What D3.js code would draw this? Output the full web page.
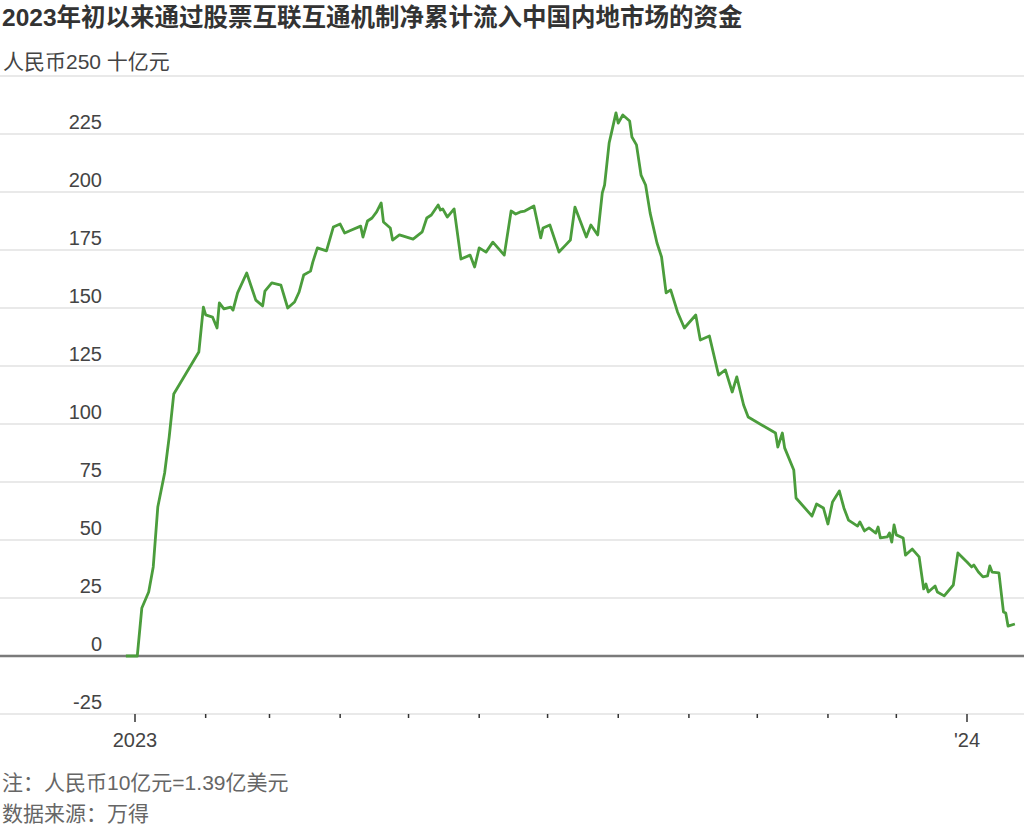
<!DOCTYPE html>
<html>
<head>
<meta charset="utf-8">
<script src="https://cdn.jsdelivr.net/npm/d3@7"></script>
<style>
	body { margin: 0; background: #fff; }
	svg text { font-family: "Liberation Sans", Arial, "Noto Sans CJK SC", sans-serif; }
</style>
</head>
<body>
<div id="root"></div>
<script>
const C = {
	width: 1024,
	height: 826,
	x0: 135,
	x1: 967,
	yTop: 76,
	yBottom: 714,
	lineColor: '#4b9d3c',
}

const title = '2023年初以来通过股票互联互通机制净累计流入中国内地市场的资金'
const unitLabel = '人民币250 十亿元'
const notes = ['注：人民币10亿元=1.39亿美元', '数据来源：万得']

const yTicks = [-25, 0, 25, 50, 75, 100, 125, 150, 175, 200, 225]

// cumulative net northbound inflow, RMB bn
const dates = [
	'2022-12-28', '2023-01-02', '2023-01-04', '2023-01-07', '2023-01-09', '2023-01-11', '2023-01-14', '2023-01-16',
	'2023-01-18', '2023-01-29', '2023-01-31', '2023-02-01', '2023-02-04', '2023-02-06', '2023-02-07', '2023-02-09',
	'2023-02-12', '2023-02-13', '2023-02-15', '2023-02-19', '2023-02-23', '2023-02-26', '2023-02-27', '2023-03-02',
	'2023-03-06', '2023-03-09', '2023-03-12', '2023-03-14', '2023-03-16', '2023-03-19', '2023-03-20', '2023-03-22',
	'2023-03-26', '2023-03-29', '2023-04-01', '2023-04-03', '2023-04-06', '2023-04-10', '2023-04-11', '2023-04-13',
	'2023-04-15', '2023-04-17', '2023-04-19', '2023-04-20', '2023-04-23', '2023-04-24', '2023-04-27', '2023-05-03',
	'2023-05-07', '2023-05-09', '2023-05-11', '2023-05-14', '2023-05-15', '2023-05-16', '2023-05-18', '2023-05-21',
	'2023-05-24', '2023-05-28', '2023-05-30', '2023-06-01', '2023-06-04', '2023-06-07', '2023-06-12', '2023-06-15',
	'2023-06-17', '2023-06-19', '2023-06-21', '2023-06-25', '2023-06-28', '2023-06-29', '2023-07-02', '2023-07-06',
	'2023-07-09', '2023-07-11', '2023-07-13', '2023-07-18', '2023-07-20', '2023-07-23', '2023-07-25', '2023-07-26',
	'2023-07-28', '2023-07-29', '2023-07-31', '2023-08-01', '2023-08-03', '2023-08-06', '2023-08-07', '2023-08-09',
	'2023-08-11', '2023-08-13', '2023-08-15', '2023-08-16', '2023-08-18', '2023-08-20', '2023-08-22', '2023-08-24',
	'2023-08-27', '2023-08-30', '2023-09-04', '2023-09-06', '2023-09-10', '2023-09-14', '2023-09-17', '2023-09-20',
	'2023-09-22', '2023-09-25', '2023-09-27', '2023-10-09', '2023-10-10', '2023-10-12', '2023-10-13', '2023-10-17',
	'2023-10-18', '2023-10-25', '2023-10-27', '2023-10-30', '2023-11-01', '2023-11-03', '2023-11-06', '2023-11-08',
	'2023-11-10', '2023-11-14', '2023-11-15', '2023-11-17', '2023-11-19', '2023-11-22', '2023-11-23', '2023-11-24',
	'2023-11-27', '2023-11-28', '2023-11-29', '2023-11-30', '2023-12-01', '2023-12-04', '2023-12-05', '2023-12-08',
	'2023-12-11', '2023-12-13', '2023-12-14', '2023-12-15', '2023-12-18', '2023-12-19', '2023-12-22', '2023-12-26',
	'2023-12-28', '2024-01-01', '2024-01-03', '2024-01-04', '2024-01-06', '2024-01-08', '2024-01-10', '2024-01-11',
	'2024-01-12', '2024-01-15', '2024-01-17', '2024-01-18', '2024-01-19', '2024-01-22',
]

const values = [
	0, 0, 20.7, 27.6, 38.4, 64.2, 78.9, 94.4,
	112.9, 131.0, 150.4, 147.0, 146.1, 141.4, 152.2, 149.6,
	150.4, 149.1, 156.5, 165.1, 153.4, 150.9, 157.3, 160.8,
	159.9, 150.0, 152.6, 156.9, 164.2, 165.9, 169.8, 175.9,
	174.6, 184.9, 186.2, 182.3, 183.6, 185.3, 180.6, 187.5,
	188.8, 191.4, 195.3, 187.1, 184.5, 179.3, 181.5, 179.7,
	182.8, 188.8, 190.1, 194.4, 192.2, 192.7, 189.2, 192.7,
	171.1, 172.8, 167.7, 175.9, 174.1, 178.4, 172.8, 191.8,
	190.5, 191.4, 191.8, 194.0, 180.2, 184.5, 185.8, 174.1,
	177.2, 179.3, 193.5, 180.6, 185.8, 181.5, 199.6, 203.0,
	221.1, 225.4, 234.1, 229.7, 233.2, 230.6, 223.7, 220.3,
	207.3, 203.0, 190.9, 186.6, 178.0, 172.0, 156.5, 157.8,
	148.3, 141.4, 147.0, 136.2, 137.9, 121.1, 123.3, 113.8,
	120.3, 108.2, 103.0, 96.1, 90.1, 96.1, 89.7, 80.2,
	68.1, 60.3, 65.5, 63.8, 56.9, 66.4, 71.1, 63.8,
	58.6, 56.0, 57.8, 53.9, 55.2, 53.0, 55.6, 50.9,
	51.3, 53.0, 49.1, 56.5, 52.2, 50.9, 43.5, 46.1,
	42.7, 28.9, 31.0, 27.6, 30.2, 27.6, 25.9, 30.6,
	44.4, 40.5, 38.4, 39.2, 36.2, 34.1, 34.5, 38.8,
	36.2, 35.8, 19.0, 18.5, 12.9, 13.8,
]

const parseDate = d3.timeParse('%Y-%m-%d')
const data = dates.map((d, i) => ({ date: parseDate(d), value: values[i] }))

const svg = d3.select('#root').append('svg')
	.attr('width', C.width)
	.attr('height', C.height)

const xScale = d3.scaleTime()
	.domain([parseDate('2023-01-01'), parseDate('2024-01-01')])
	.range([C.x0, C.x1])

const yScale = d3.scaleLinear()
	.domain([-25, 250])
	.range([C.yBottom, C.yTop])

// title
svg.append('text')
	.attr('x', 2)
	.attr('y', 26)
	.attr('font-size', '24.5px')
	.attr('font-weight', 'bold')
	.attr('fill', '#333')
	.text(title)

// gridlines
svg.append('g')
	.selectAll('line')
	.data(yTicks.concat(250))
	.enter()
	.append('line')
	.attr('x1', 0)
	.attr('x2', C.width)
	.attr('y1', d => yScale(d))
	.attr('y2', d => yScale(d))
	.attr('stroke', d => d === 0 ? '#7a7a7a' : '#e9e9e9')
	.attr('stroke-width', d => d === 0 ? 2.5 : 2)

// y labels
svg.append('g')
	.selectAll('text')
	.data(yTicks)
	.enter()
	.append('text')
	.attr('x', 102)
	.attr('y', d => yScale(d) - 5)
	.attr('text-anchor', 'end')
	.attr('font-size', '20px')
	.attr('fill', '#444')
	.text(d => d)

svg.append('text')
	.attr('x', 3)
	.attr('y', yScale(250) - 7)
	.attr('font-size', '21px')
	.attr('fill', '#444')
	.text(unitLabel)

// x axis ticks
const months = d3.timeMonth.range(parseDate('2023-01-01'), parseDate('2024-01-02'))

svg.append('g')
	.selectAll('line')
	.data(months)
	.enter()
	.append('line')
	.attr('x1', d => xScale(d))
	.attr('x2', d => xScale(d))
	.attr('y1', C.yBottom)
	.attr('y2', d => d.getMonth() === 0 ? C.yBottom + 8 : C.yBottom + 4)
	.attr('stroke', '#333')
	.attr('stroke-width', 1.5)

svg.append('g')
	.selectAll('text')
	.data(months.filter(d => d.getMonth() === 0))
	.enter()
	.append('text')
	.attr('x', d => xScale(d))
	.attr('y', 747)
	.attr('text-anchor', 'middle')
	.attr('font-size', '20px')
	.attr('fill', '#444')
	.text(d => d.getFullYear() === 2023 ? '2023' : "'" + String(d.getFullYear()).slice(2))

// line
const line = d3.line()
	.x(d => xScale(d.date))
	.y(d => yScale(d.value))

svg.append('path')
	.datum(data)
	.attr('d', line)
	.attr('fill', 'none')
	.attr('stroke', C.lineColor)
	.attr('stroke-width', 2.8)
	.attr('stroke-linejoin', 'round')

// footnotes
svg.append('g')
	.selectAll('text')
	.data(notes)
	.enter()
	.append('text')
	.attr('x', 2)
	.attr('y', (d, i) => 790 + i * 31)
	.attr('font-size', '21px')
	.attr('fill', '#666')
	.text(d => d)
</script>
</body>
</html>
